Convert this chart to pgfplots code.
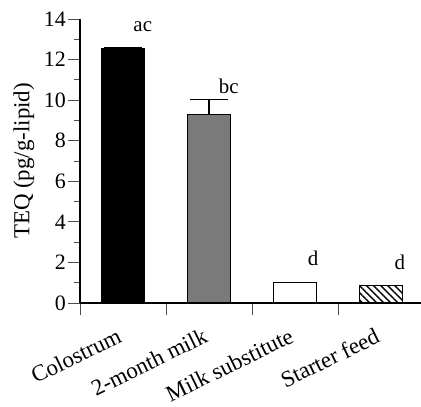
\documentclass[border=0pt]{standalone}
\usepackage{pgfplots}
\pgfplotsset{compat=1.18}
\usepackage{fontspec}
\setmainfont{Liberation Serif}
\usetikzlibrary{patterns.meta}
\begin{document}
\begin{tikzpicture}
\begin{axis}[
  at={(0,0)}, anchor=south west,
  scale only axis, width=341bp, height=284bp,
  xmin=0.5, xmax=4.465, ymin=0, ymax=14,
  axis x line=bottom, axis y line=left,
  axis line style={line width=1.2pt, -},
  ytick={0,2,...,14}, minor y tick num=1,
  xtick={1,2,3,4},
  xticklabels={Colostrum,2-month milk,Milk substitute,Starter feed},
  major x tick style={draw=none},
  minor xtick={0.5,1.5,2.5,3.5,4.5},
  minor x tick style={/pgfplots/minor tick length=12bp},
  tick align=outside,
  major tick length=12bp, minor tick length=6bp,
  tick style={line width=0.8pt, black!70},
  /pgf/number format/assume math mode=true,
  yticklabel style={font=\fontsize{22}{24}\selectfont, inner sep=2bp},
  xticklabel style={font=\fontsize{23}{25}\selectfont, anchor=north east, inner sep=0pt, xshift=-7bp, yshift=-12bp, rotate=26},
  ylabel={TEQ (pg/g-lipid)},
  ylabel style={font=\fontsize{23}{25}\selectfont, yshift=4bp},
  ybar, bar width=43bp,
  every axis plot/.append style={bar shift=0pt, line width=1.3pt, draw=black},
  error bars/y dir=plus, error bars/y explicit,
  error bars/error bar style={line width=1.3pt, black},
  error bars/error mark options={mark size=19bp, line width=1.3pt, black, rotate=90},
]
\addplot[fill=black] coordinates {(1,12.55) +- (0,0.06)};
\addplot[fill=black!52] coordinates {(2,9.3) +- (0,0.73)};
\addplot[fill=white] coordinates {(3,1.0)};
\addplot[pattern={Lines[angle=-45,distance=5bp,line width=1.4bp]}] coordinates {(4,0.87)};
\node[font=\fontsize{21}{23}\selectfont] at (axis cs:1.23,13.6) {ac};
\node[font=\fontsize{21}{23}\selectfont] at (axis cs:2.23,10.7) {bc};
\node[font=\fontsize{21}{23}\selectfont] at (axis cs:3.21,2.2) {d};
\node[font=\fontsize{21}{23}\selectfont] at (axis cs:4.22,2.0) {d};
\end{axis}
\pgfresetboundingbox
\path (-80bp,-104bp) rectangle (341bp,303bp);
\end{tikzpicture}
\end{document}
